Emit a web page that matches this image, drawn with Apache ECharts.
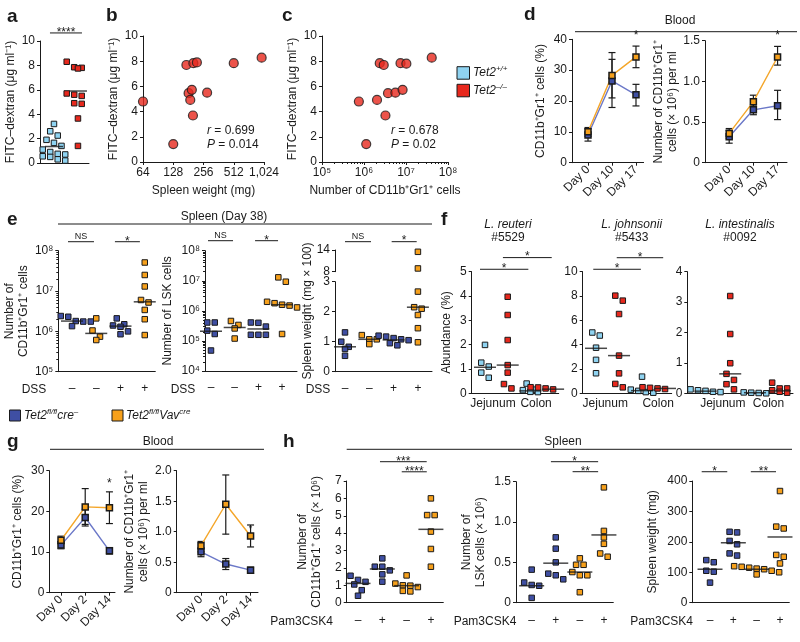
<!DOCTYPE html>
<html><head><meta charset="utf-8">
<script src="https://cdn.jsdelivr.net/npm/echarts@6/dist/echarts.min.js"></script>
<style>html,body{margin:0;padding:0;background:#fff}#c{width:800px;height:642px}</style>
</head><body><div id="c"></div>
<script>
// ---------------- DATA ----------------
// a: FITC-dextran
const aWT = [3.2, 2.6, 2.25, 1.9, 1.65, 1.4, 1.1, 0.9, 0.75, 0.7, 0.55, 0.5, 0.3, 0.2];
const aKO = [8.3, 7.85, 7.8, 7.75, 7.8, 5.7, 5.5, 5.35, 5.6, 4.85, 4.9, 3.65, 1.4];
const aMedian = [1.35, 5.9];
// b: spleen weight vs FITC
const bWeight = [64, 128, 173, 203, 220, 182, 196, 189, 201, 278, 512, 970];
const bFitc = [4.8, 1.42, 7.7, 7.84, 7.9, 5.46, 5.73, 4.93, 3.69, 5.5, 7.84, 8.28];
// c: CD11b+Gr1+ cells vs FITC
const cCells = [7.55e5, 1.13e6, 2.04e6, 2.37e6, 2.95e6, 3.24e6, 3.73e6, 5.6e6, 7.4e6, 8.3e6, 1.02e7, 4.1e7];
const cFitc = [4.8, 1.42, 4.93, 7.84, 7.7, 3.69, 5.46, 5.5, 7.84, 5.73, 7.8, 8.28];
// d: blood
const dDays = ['Day 0', 'Day 10', 'Day 17'];
const dPctCre = [9, 26.5, 22], dPctCreLo = [7, 17.9, 18.4], dPctCreHi = [11, 33.5, 25.4];
const dPctVav = [10, 28.3, 34.3], dPctVavLo = [8.5, 21, 30.8], dPctVavHi = [11.4, 35.7, 37.8];
const dNumCre = [0.32, 0.65, 0.70], dNumCreLo = [0.24, 0.59, 0.53], dNumCreHi = [0.40, 0.71, 0.89];
const dNumVav = [0.36, 0.75, 1.30], dNumVavLo = [0.30, 0.68, 1.20], dNumVavHi = [0.42, 0.83, 1.43];
// e: spleen day 38 (groups: cre- DSS-, Vav DSS-, cre- DSS+, Vav DSS+)
const eDss = ['–', '–', '+', '+'];
const eMyeloid = [[2.4e6, 2.4e6, 2.3e6, 1.8e6, 1.75e6, 1.75e6, 1.35e6], [2.1e6, 1.05e6, 7.4e5, 6.1e5], [2.1e6, 1.5e6, 1.4e6, 1.3e6, 1.0e6, 8.5e5], [5.1e7, 2.5e7, 1.3e7, 6e6, 5.2e6, 3.4e6, 2e6, 8.1e5]];
const eMyeloidMed = [1.8e6, 8.9e5, 1.35e6, 5.4e6];
const eLsk = [[4.1e5, 4.1e5, 2.2e5, 1.7e5, 4.8e4], [4.6e5, 3.4e5, 2.6e5, 1.2e5], [4.1e5, 4.0e5, 3.0e5, 1.6e5, 1.6e5, 1.6e5], [1.3e7, 9.3e6, 2.0e6, 1.8e6, 1.6e6, 1.5e6, 1.3e6, 1.7e5]];
const eLskMed = [2.1e5, 2.8e5, 2.5e5, 1.6e6];
const eWeight = [[1.31, 1.0, 0.83, 0.76, 0.53], [1.22, 1.08, 1.08, 0.92], [1.2, 1.17, 1.12, 1.08, 1.05, 0.95, 0.88], [13.5, 8.9, 2.67, 2.15, 2.1, 1.89, 1.45, 0.98]];
const eWeightMed = [0.83, 1.08, 1.06, 2.15];
// f: abundance (groups: WT jejunum, KO jejunum, WT colon, KO colon)
const fSites = ['Jejunum', 'Colon'];
const fReuteri = [[1.99, 1.26, 1.1, 0.85, 0.64], [3.97, 3.22, 2.19, 1.16, 0.85, 0.38, 0.2], [0.4, 0.15, 0.13, 0.06, 0.05], [0.25, 0.24, 0.2, 0.16, 0.12, 0.1, 0.08]];
const fReuteriMed = [1.07, 1.16, 0.1, 0.17];
const fJohnsonii = [[5.0, 4.75, 3.75, 2.75, 1.65], [8.03, 7.62, 6.52, 3.1, 1.64, 0.77, 0.49], [1.37, 0.3, 0.2, 0.1, 0.05], [0.5, 0.45, 0.4, 0.35, 0.15, 0.1, 0.05]];
const fJohnsoniiMed = [3.7, 3.1, 0.22, 0.4];
const fIntestinalis = [[0.13, 0.1, 0.08, 0.05, 0.04], [3.2, 1.95, 0.99, 0.64, 0.44, 0.3, 0.13], [0.03, 0.02, 0.01, 0.0], [0.35, 0.16, 0.16, 0.1, 0.05, 0.02]];
const fIntestinalisMed = [0.07, 0.64, 0.02, 0.08];
// g: blood
const gDays = ['Day 0', 'Day 2', 'Day 14'];
const gPctCre = [11.7, 18.5, 10.3], gPctCreLo = [10.8, 16.4, 9.5], gPctCreHi = [12.6, 20.5, 11.1];
const gPctVav = [12.9, 21.1, 20.9], gPctVavLo = [12.0, 16.8, 17.0], gPctVavHi = [13.9, 25.6, 24.8];
const gNumCre = [0.67, 0.47, 0.37], gNumCreLo = [0.59, 0.38, 0.32], gNumCreHi = [0.74, 0.56, 0.42];
const gNumVav = [0.77, 1.45, 0.93], gNumVavLo = [0.67, 0.96, 0.75], gNumVavHi = [0.84, 1.93, 1.11];
// h: spleen (groups: cre- −, cre- +, Vav −, Vav +)
const hPam = ['–', '+', '–', '+'];
const hMyeloid = [[1.55, 1.31, 1.2, 1.05, 0.72, 0.4], [2.55, 2.07, 2.07, 1.86, 1.63, 1.21], [1.57, 1.1, 1.0, 0.98, 0.9, 0.68, 0.65], [6.0, 5.04, 5.04, 4.09, 3.09, 2.07]];
const hMyeloidMed = [1.11, 1.94, 0.98, 4.22];
const hLsk = [[0.41, 0.25, 0.22, 0.21, 0.06], [0.81, 0.67, 0.5, 0.36, 0.34, 0.29], [0.55, 0.47, 0.47, 0.38, 0.34, 0.34, 0.13], [1.43, 0.89, 0.81, 0.73, 0.61, 0.57]];
const hLskMed = [0.21, 0.49, 0.38, 0.84];
const hWeight = [[140, 133, 105, 102, 66], [233, 231, 203, 192, 162, 155], [120, 118, 115, 112, 110, 105, 100, 93], [367, 250, 244, 157, 151, 129]];
const hWeightMed = [110, 197, 110, 216];

// ---------------- STYLE ----------------
const FONT = '"Liberation Sans", Arial, Helvetica, sans-serif';
const INK = '#1a1a1a';
const WT = '#8fd3f1', KO = '#e7281d', CRE = '#3f4fa3', VAV = '#f6a01b';
const CRE_LINE = '#6b78c8', VAV_LINE = '#f4a62a';
const SQ = 7;
const SUP = {4: '⁴', 5: '⁵', 6: '⁶', 7: '⁷', 8: '⁸'};
const logFmt = v => '10' + SUP[Math.round(Math.log10(v))];
const dec1 = v => v === 0 ? '0' : v.toFixed(1);

function isObj(v) { return v && typeof v === 'object' && !Array.isArray(v); }
function merge(a, b) { const r = Object.assign({}, a); for (const k in b) { r[k] = isObj(a[k]) && isObj(b[k]) ? merge(a[k], b[k]) : b[k]; } return r; }
const AX = {
  splitLine: {show: false},
  axisLine: {show: true, onZero: false, lineStyle: {color: INK, width: 1}},
  axisTick: {show: true, length: 3, lineStyle: {color: INK, width: 1}},
  axisLabel: {color: INK, fontSize: 12, fontFamily: FONT, margin: 5},
  nameTextStyle: {color: INK, fontSize: 12, fontFamily: FONT, lineHeight: 14},
  nameLocation: 'middle'
};
const grids = [], xAxis = [], yAxis = [], series = [], graphic = [];
function addGrid(box, xa, ya) {
  const i = grids.length;
  grids.push({left: box[0], top: box[1], width: box[2], height: box[3]});
  xAxis.push(merge(merge(AX, xa), {gridIndex: i}));
  yAxis.push(merge(merge(AX, ya), {gridIndex: i, nameRotate: 90}));
  return i;
}
function pxFn(y, h) {
  if (y.type === 'log') { const a = Math.log(y.min), b = Math.log(y.max); return v => (Math.log(Math.max(v, 1e-9)) - a) / (b - a) * h; }
  return v => (v - y.min) / (y.max - y.min) * h;
}
function swarm(vals, toPx, size) {
  const idx = vals.map((v, i) => i).sort((a, b) => vals[b] - vals[a]);
  const rows = []; let cur = null;
  idx.forEach(i => { const p = toPx(vals[i]); if (cur && Math.abs(cur.p0 - p) < size * 0.9) cur.m.push(i); else { cur = {p0: p, m: [i]}; rows.push(cur); } });
  const off = new Array(vals.length).fill(0);
  rows.forEach(r => { const n = r.m.length; r.m.forEach((i, j) => { off[i] = (j - (n - 1) / 2) * (size + 0.5); }); });
  return off;
}
function addDots(i, o, groups, filter) {
  const toPx = pxFn(o.y, o.box[3]);
  const ppx = o.box[2] / (o.xmax - o.xmin);
  groups.forEach((g, gi) => {
    const vals = filter ? g.vals.filter(filter) : g.vals;
    if (!vals.length) return;
    const off = swarm(vals, toPx, SQ);
    series.push({type: 'scatter', xAxisIndex: i, yAxisIndex: i, symbol: 'rect', symbolSize: SQ - 1.5, silent: true, z: 3,
      itemStyle: {color: g.color, borderColor: INK, borderWidth: 1, opacity: 1},
      data: vals.map((v, k) => [gi + 1 + off[k] / ppx, v])});
  });
}
function addMedians(i, groups, w) {
  series.push({type: 'scatter', xAxisIndex: i, yAxisIndex: i, symbol: 'rect', symbolSize: [w, 1.5], silent: true, z: 4,
    itemStyle: {color: INK}, data: groups.map((g, gi) => [gi + 1, g.med])});
}
function dotAxisX(o) {
  const xa = {type: 'value', min: o.xmin, max: o.xmax, axisTick: {show: false}, axisLabel: {show: false}};
  if (o.xl) xa.axisLabel = {show: true, margin: o.xm, customValues: o.xl.at,
    formatter: v => { const k = o.xl.at.findIndex(a => Math.abs(a - v) < 1e-6); return k < 0 ? '' : o.xl.t[k]; }};
  return xa;
}
function dotPanel(o) {
  const i = addGrid(o.box, dotAxisX(o), o.y);
  addDots(i, o, o.groups);
  addMedians(i, o.groups, o.medW || 22);
  if (o.sig) sigSeries(i, o.sig);
  return i;
}
function errRender(params, api) {
  const x = api.value(0), lo = api.value(1), hi = api.value(2);
  const a = api.coord([x, lo]), b = api.coord([x, hi]); const w = 3.5;
  const st = {stroke: INK, lineWidth: 1.2};
  return {type: 'group', children: [
    {type: 'line', shape: {x1: a[0], y1: a[1], x2: b[0], y2: b[1]}, style: st},
    {type: 'line', shape: {x1: a[0] - w, y1: a[1], x2: a[0] + w, y2: a[1]}, style: st},
    {type: 'line', shape: {x1: b[0] - w, y1: b[1], x2: b[0] + w, y2: b[1]}, style: st}]};
}
function linePanel(o) {
  const xa = {type: 'value', min: o.xmin, max: o.xmax, axisTick: {show: true, customValues: [0, 1, 2]},
    axisLabel: {rotate: 45, customValues: [0, 1, 2], formatter: v => o.days[Math.round(v)], margin: 5}};
  const i = addGrid(o.box, xa, o.y);
  o.lines.forEach(L => {
    series.push({type: 'custom', xAxisIndex: i, yAxisIndex: i, renderItem: errRender, silent: true, clip: false, z: 2,
      data: L.vals.map((v, k) => [k, L.lo[k], L.hi[k]]), encode: {x: 0, y: [1, 2]}});
  });
  o.lines.forEach(L => {
    series.push({type: 'line', xAxisIndex: i, yAxisIndex: i, data: L.vals.map((v, k) => [k, v]), symbol: 'rect', symbolSize: 6,
      showSymbol: true, silent: true, z: 3, lineStyle: {color: L.line, width: 1.4},
      itemStyle: {color: L.color, borderColor: INK, borderWidth: 1.5}});
  });
  if (o.sig) sigSeries(i, o.sig);
  return i;
}
function sigSeries(i, items) {
  series.push({type: 'custom', xAxisIndex: i, yAxisIndex: i, clip: false, silent: true, z: 5,
    data: items.map(s => [s[0], s[1], s[2]]), encode: {x: [0, 1], y: 2},
    renderItem: (p, api) => {
      const s = items[p.dataIndex];
      const a = api.coord([s[0], s[2]]), b = api.coord([s[1], s[2]]);
      const ch = [];
      if (s[1] !== s[0]) ch.push({type: 'line', shape: {x1: a[0], y1: a[1], x2: b[0], y2: b[1]}, style: {stroke: INK, lineWidth: 1}});
      ch.push({type: 'text', x: (a[0] + b[0]) / 2, y: a[1] - (s[3] === 'NS' ? 5.5 : 0.5),
        style: {text: s[3], fontSize: s[4] || 12, fontFamily: FONT, fill: INK, align: 'center', verticalAlign: 'middle'}});
      return {type: 'group', children: ch};
    }});
}
function txt(x, y, text, st, extra) {
  graphic.push(Object.assign({type: 'text', x: x, y: y, silent: true,
    style: Object.assign({text: text, fontSize: 12, fontFamily: FONT, fill: INK, align: 'left', verticalAlign: 'middle'}, st || {})}, extra || {}));
}
function hline(x1, x2, y) { graphic.push({type: 'line', silent: true, shape: {x1: x1, y1: y, x2: x2, y2: y}, style: {stroke: INK, lineWidth: 1}}); }
function box(x, y, s, fill) { graphic.push({type: 'rect', silent: true, shape: {x: x, y: y, width: s, height: s}, style: {fill: fill, stroke: INK, lineWidth: 1}}); }
const RICH = {
  i: {fontStyle: 'italic', fontSize: 12, fontFamily: FONT, lineHeight: 16, fill: INK},
  n: {fontSize: 12, fontFamily: FONT, lineHeight: 16, fill: INK},
  s: {fontStyle: 'italic', fontSize: 8, fontFamily: FONT, lineHeight: 8, verticalAlign: 'top', fill: INK}
};
const yFitc = 'FITC–dextran (μg ml⁻¹)';

// ---------------- PANELS ----------------
// a
dotPanel({box: [40, 41, 49, 122], xmin: 0.417, xmax: 2.46,
  y: {type: 'value', min: 0, max: 10, interval: 2, name: yFitc, nameGap: 22},
  groups: [{vals: aWT, color: WT, med: aMedian[0]}, {vals: aKO, color: KO, med: aMedian[1]}], medW: 18,
  sig: [[0.833, 2.167, 10.66, '****']]});
// b
(function () {
  const i = addGrid([143, 36, 121, 126],
    {type: 'log', logBase: 2, min: 64, max: 1024, name: 'Spleen weight (mg)', nameGap: 22,
      axisLabel: {formatter: v => { const r = Math.round(v); return r === 1024 ? '1,024' : String(r); }}},
    {type: 'value', min: 0, max: 10, interval: 2, name: yFitc, nameGap: 19});
  series.push({type: 'scatter', xAxisIndex: i, yAxisIndex: i, symbol: 'circle', symbolSize: 9, silent: true,
    itemStyle: {color: KO, borderColor: INK, borderWidth: 1.2}, data: bWeight.map((w, k) => [w, bFitc[k]])});
})();
// c
(function () {
  const i = addGrid([322, 36, 126, 126],
    {type: 'log', logBase: 10, min: 1e5, max: 1e8, name: 'Number of CD11b⁺Gr1⁺ cells', nameGap: 22,
      minorTick: {show: true, splitNumber: 9, length: 2, lineStyle: {color: INK}}, axisLabel: {formatter: logFmt}},
    {type: 'value', min: 0, max: 10, interval: 2, name: yFitc, nameGap: 16});
  series.push({type: 'scatter', xAxisIndex: i, yAxisIndex: i, symbol: 'circle', symbolSize: 9, silent: true,
    itemStyle: {color: KO, borderColor: INK, borderWidth: 1.2}, data: cCells.map((w, k) => [w, cFitc[k]])});
})();
// d
linePanel({box: [572, 39.3, 71.6, 123.4], xmin: -0.667, xmax: 2.317, days: dDays,
  y: {type: 'value', min: 0, max: 40, interval: 10, name: 'CD11b⁺Gr1⁺ cells (%)', nameGap: 24},
  lines: [{vals: dPctCre, lo: dPctCreLo, hi: dPctCreHi, color: CRE, line: CRE_LINE},
    {vals: dPctVav, lo: dPctVavLo, hi: dPctVavHi, color: VAV, line: VAV_LINE}],
  sig: [[2, 2, 41.07, '*']]});
linePanel({box: [705, 40.7, 82, 122], xmin: -1, xmax: 2.39, days: dDays,
  y: {type: 'value', min: 0, max: 1.5, interval: 0.5, name: 'Number of CD11b⁺Gr1⁺\ncells (× 10⁶) per ml', nameGap: 13, axisLabel: {formatter: dec1}},
  lines: [{vals: dNumCre, lo: dNumCreLo, hi: dNumCreHi, color: CRE, line: CRE_LINE},
    {vals: dNumVav, lo: dNumVavLo, hi: dNumVavHi, color: VAV, line: VAV_LINE}],
  sig: [[2, 2, 1.558, '*']]});
// e
const eCols = [CRE, VAV, CRE, VAV];
const logMinor = {show: true, splitNumber: 9, length: 2, lineStyle: {color: INK}};
dotPanel({box: [58.3, 250.7, 97, 121], xmin: 0.435, xmax: 4.435, xl: {at: [1, 2, 3, 4], t: eDss}, xm: 11,
  y: {type: 'log', logBase: 10, min: 1e5, max: 1e8, name: 'Number of\nCD11b⁺Gr1⁺ cells', nameGap: 25, minorTick: logMinor, axisLabel: {formatter: logFmt}},
  groups: eMyeloid.map((v, k) => ({vals: v, color: eCols[k], med: eMyeloidMed[k]})),
  sig: [[0.835, 1.907, 1.67e8, 'NS', 9], [2.77, 3.8, 1.67e8, '*']]});
dotPanel({box: [205, 250.7, 92, 120.3], xmin: 0.747, xmax: 4.63, xl: {at: [1, 2, 3, 4], t: eDss}, xm: 11,
  y: {type: 'log', logBase: 10, min: 1e4, max: 1e8, name: 'Number of LSK cells', nameGap: 30, minorTick: logMinor, axisLabel: {formatter: logFmt}},
  groups: eLsk.map((v, k) => ({vals: v, color: eCols[k], med: eLskMed[k]})),
  sig: [[0.874, 1.93, 2.15e8, 'NS', 9], [2.86, 3.83, 2.15e8, '*']]});
(function () {
  const oL = {box: [335, 281.7, 97, 90], xmin: 0.588, xmax: 4.58, xl: {at: [1, 2, 3, 4], t: eDss}, xm: 11,
    y: {type: 'value', min: 0, max: 3, interval: 1}};
  const oU = {box: [335, 250, 97, 21.7], xmin: 0.588, xmax: 4.58,
    y: {type: 'value', min: 8, max: 14, axisTick: {customValues: [8, 14]}, axisLabel: {customValues: [8, 14]}}};
  const groups = eWeight.map((v, k) => ({vals: v, color: eCols[k], med: eWeightMed[k]}));
  const iL = addGrid(oL.box, dotAxisX(oL), oL.y);
  const xu = dotAxisX(oU); xu.show = false;
  const iU = addGrid(oU.box, xu, oU.y);
  addDots(iL, oL, groups, v => v <= 3);
  addDots(iU, oU, groups, v => v > 3);
  addMedians(iL, groups, 22);
  sigSeries(iU, [[1.0, 2.07, 16.3, 'NS', 9], [2.92, 3.95, 16.3, '*']]);
})();
// f
const fCols = [WT, KO, WT, KO];
dotPanel({box: [471.7, 271.7, 87, 121.6], xmin: 0.414, xmax: 4.247, xl: {at: [1.35, 3.25], t: fSites}, xm: 4,
  y: {type: 'value', min: 0, max: 5, interval: 1, name: 'Abundance (%)', nameGap: 18},
  groups: fReuteri.map((v, k) => ({vals: v, color: fCols[k], med: fReuteriMed[k]})),
  sig: [[0.78, 2.91, 5.1, '*'], [1.79, 3.94, 5.58, '*']]});
dotPanel({box: [582.7, 271.7, 89, 121.6], xmin: 0.42, xmax: 4.29, xl: {at: [1.4, 3.7], t: fSites}, xm: 4,
  y: {type: 'value', min: 0, max: 10, interval: 2},
  groups: fJohnsonii.map((v, k) => ({vals: v, color: fCols[k], med: fJohnsoniiMed[k]})),
  sig: [[0.88, 2.95, 10.2, '*'], [1.9, 3.92, 11.15, '*']]});
dotPanel({box: [687.3, 271.7, 105.7, 121.6], xmin: 0.263, xmax: 4.54, xl: {at: [1.7, 3.55], t: fSites}, xm: 4,
  y: {type: 'value', min: 0, max: 4, interval: 1},
  groups: fIntestinalis.map((v, k) => ({vals: v, color: fCols[k], med: fIntestinalisMed[k]}))});
// g
linePanel({box: [49.3, 470.7, 65.7, 122], xmin: -0.483, xmax: 2.23, days: gDays,
  y: {type: 'value', min: 0, max: 30, interval: 10, name: 'CD11b⁺Gr1⁺ cells (%)', nameGap: 25},
  lines: [{vals: gPctCre, lo: gPctCreLo, hi: gPctCreHi, color: CRE, line: CRE_LINE},
    {vals: gPctVav, lo: gPctVavLo, hi: gPctVavHi, color: VAV, line: VAV_LINE}],
  sig: [[2, 2, 26.6, '*']]});
linePanel({box: [176.7, 470.7, 81.3, 122], xmin: -0.98, xmax: 2.30, days: gDays,
  y: {type: 'value', min: 0, max: 2, interval: 0.5, name: 'Number of CD11b⁺Gr1⁺\ncells (× 10⁶) per ml', nameGap: 16, axisLabel: {formatter: dec1}},
  lines: [{vals: gNumCre, lo: gNumCreLo, hi: gNumCreHi, color: CRE, line: CRE_LINE},
    {vals: gNumVav, lo: gNumVavLo, hi: gNumVavHi, color: VAV, line: VAV_LINE}],
  sig: [[2, 2, 1.036, '*', 9]]});
// h
const hCols = [CRE, CRE, VAV, VAV];
dotPanel({box: [346.7, 481, 96.6, 121.7], xmin: 0.535, xmax: 4.51, xl: {at: [1, 2, 3, 4], t: hPam}, xm: 12,
  y: {type: 'value', min: 0, max: 7, interval: 1, name: 'Number of\nCD11b⁺Gr1⁺ cells (× 10⁶)', nameGap: 23},
  groups: hMyeloid.map((v, k) => ({vals: v, color: hCols[k], med: hMyeloidMed[k]})), medW: 25,
  sig: [[1.905, 3.827, 8.11, '***'], [2.8, 3.83, 7.53, '****']]});
dotPanel({box: [516, 481.7, 97.3, 121], xmin: 0.349, xmax: 4.39, xl: {at: [1, 2, 3, 4], t: hPam}, xm: 12,
  y: {type: 'value', min: 0, max: 1.5, interval: 0.5, name: 'Number of\nLSK cells (× 10⁶)', nameGap: 28, axisLabel: {formatter: dec1}},
  groups: hLsk.map((v, k) => ({vals: v, color: hCols[k], med: hLskMed[k]})), medW: 25,
  sig: [[1.8, 3.76, 1.748, '*'], [2.7, 3.76, 1.624, '**']]});
dotPanel({box: [692.3, 481, 97, 121.7], xmin: 0.24, xmax: 4.4, xl: {at: [1, 2, 3, 4], t: hPam}, xm: 12,
  y: {type: 'value', min: 0, max: 400, interval: 100, name: 'Spleen weight (mg)', nameGap: 33},
  groups: hWeight.map((v, k) => ({vals: v, color: hCols[k], med: hWeightMed[k]})), medW: 25,
  sig: [[0.643, 1.74, 430.5, '*'], [2.75, 3.83, 430.5, '**']]});

// ---------------- ANNOTATIONS ----------------
const LET = {fontSize: 19, fontWeight: 'bold', verticalAlign: 'bottom'};
[['a', 7, 26], ['b', 106, 25.5], ['c', 282, 25.5], ['d', 524, 24], ['e', 7, 229], ['f', 441, 229], ['g', 7, 451], ['h', 283, 451]]
  .forEach(l => txt(l[1], l[2], l[0], LET));
// headers
txt(680, 21, 'Blood', {align: 'center'}); hline(575, 797, 31.7);
txt(224, 217, 'Spleen (Day 38)', {align: 'center'}); hline(58, 432, 224);
txt(158, 442, 'Blood', {align: 'center'}); hline(50, 264, 449.3);
txt(563, 442, 'Spleen', {align: 'center'}); hline(346.7, 792, 449.3);
// r / P
txt(207, 131, '{i|r}{n| = 0.699}', {rich: RICH});
txt(207, 145, '{i|P}{n| = 0.014}', {rich: RICH});
txt(391, 131, '{i|r}{n| = 0.678}', {rich: RICH});
txt(391, 145, '{i|P}{n| = 0.02}', {rich: RICH});
// legend b/c
box(457, 66.7, 12.5, WT); txt(473, 73, '{i|Tet2}{s|+/+}', {rich: RICH});
box(457, 84.3, 12.5, KO); txt(473, 90.5, '{i|Tet2}{s|–/–}', {rich: RICH});
// legend e
box(9.5, 410, 11, CRE); txt(24, 415.5, '{i|Tet2}{s|fl/fl}{i|cre}{s|–}', {rich: RICH});
box(112, 410, 11, VAV); txt(126, 415.5, '{i|Tet2}{s|fl/fl}{i|Vav}{s|cre}', {rich: RICH});
// DSS / Pam3CSK4 row labels
[34, 183, 318].forEach(x => txt(x, 390, 'DSS', {align: 'center'}));
[301.7, 485, 661.7].forEach(x => txt(x, 621.5, 'Pam3CSK4', {align: 'center'}));
// e3 y title (broken axis)
txt(308, 311, 'Spleen weight (mg × 100)', {align: 'center'}, {rotation: Math.PI / 2});
// f titles
[[508, 'L. reuteri', '#5529'], [631.7, 'L. johnsonii', '#5433'], [740, 'L. intestinalis', '#0092']].forEach(t => {
  txt(t[0], 225, t[1], {align: 'center', fontStyle: 'italic'});
  txt(t[0], 238, t[2], {align: 'center'});
});

const chart = echarts.init(document.getElementById('c'), null, {renderer: 'canvas'});
chart.setOption({
  animation: false,
  backgroundColor: '#fff',
  textStyle: {fontFamily: FONT},
  grid: grids, xAxis: xAxis, yAxis: yAxis, series: series, graphic: graphic
});
</script></body></html>
